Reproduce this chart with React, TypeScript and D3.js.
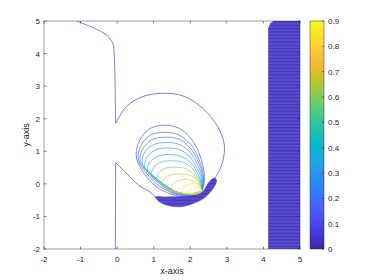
import React from "react";
import * as d3 from "d3";

type Pt = [number, number];

const xTicks = [-2, -1, 0, 1, 2, 3, 4, 5];
const yTicks = [-2, -1, 0, 1, 2, 3, 4, 5];
const cbTicks = [0, 0.1, 0.2, 0.3, 0.4, 0.5, 0.6, 0.7, 0.8, 0.9];

// parula, sampled every 4th of the 64 entries
const parula = [
  "#3e26a8", "#4537d5", "#484df0", "#4563fd", "#327cfc", "#2b91ef",
  "#20a5e3", "#08b5d0", "#19bfb6", "#37c897", "#64cd6f", "#9dc943",
  "#d1bf27", "#f8ba3d", "#fccf30", "#f5e924", "#f9fb15",
];
const parulaPos = [0, 4, 8, 12, 16, 20, 24, 28, 32, 36, 40, 44, 48, 52, 56, 60, 63].map((i) => i / 63);

// outer contour (low level)
const outerLevel = 0.05;
const outerTop: Pt[] = [
  [-1.11, 5.0], [-0.65, 4.79], [-0.29, 4.57], [-0.12, 4.31], [-0.08, 3.96],
  [-0.06, 3.3], [-0.05, 2.5], [-0.04, 1.86],
];
const outerArc: Pt[] = [
  [-0.04, 1.86], [0.25, 2.37], [0.7, 2.68], [1.25, 2.78], [1.8, 2.7],
  [2.34, 2.32], [2.75, 1.76], [2.93, 1.2], [2.9, 0.75], [2.8, 0.42], [2.66, 0.15],
];
const outerVert: Pt[] = [[-0.05, -2.0], [-0.04, 0.65]];
const outerLow: Pt[] = [
  [-0.04, 0.65], [0.26, 0.32], [0.6, -0.05], [0.9, -0.25], [1.06, -0.42],
];

// nested loops
const loopLevels = [0.1, 0.15, 0.2, 0.25, 0.3, 0.4, 0.5, 0.6, 0.7, 0.75, 0.85, 0.9];
const loops: Pt[][] = [
  [[2.31, -0.23], [1.95, -0.39], [1.58, -0.35], [1.13, -0.13], [0.76, 0.28], [0.53, 0.79], [0.58, 1.25], [0.85, 1.66], [1.22, 1.8], [1.67, 1.72], [2.04, 1.36], [2.27, 0.85], [2.38, 0.33], [2.37, -0.03], [2.31, -0.23]],
  [[2.31, -0.23], [1.95, -0.37], [1.58, -0.31], [1.17, -0.08], [0.835, 0.28], [0.58, 0.74], [0.64, 1.15], [0.9, 1.49], [1.24, 1.58], [1.67, 1.51], [2.02, 1.2], [2.24, 0.74], [2.36, 0.28], [2.35, -0.03], [2.31, -0.23]],
  [[2.31, -0.23], [1.95, -0.36], [1.58, -0.29], [1.22, -0.05], [0.9, 0.28], [0.63, 0.69], [0.69, 1.05], [0.94, 1.35], [1.29, 1.43], [1.69, 1.37], [2.01, 1.08], [2.22, 0.67], [2.34, 0.26], [2.34, -0.05], [2.31, -0.23]],
  [[2.31, -0.23], [1.95, -0.35], [1.6, -0.28], [1.26, -0.03], [0.96, 0.26], [0.69, 0.61], [0.74, 0.95], [0.99, 1.2], [1.33, 1.27], [1.7, 1.21], [2.0, 0.96], [2.2, 0.59], [2.32, 0.22], [2.33, -0.06], [2.31, -0.23]],
  [[2.31, -0.23], [1.95, -0.34], [1.63, -0.27], [1.31, -0.03], [1.02, 0.22], [0.76, 0.51], [0.81, 0.81], [1.05, 1.04], [1.38, 1.1], [1.73, 1.04], [2.0, 0.81], [2.18, 0.49], [2.3, 0.18], [2.32, -0.07], [2.31, -0.23]],
  [[2.31, -0.23], [1.97, -0.33], [1.66, -0.26], [1.35, -0.08], [1.08, 0.13], [0.835, 0.38], [0.89, 0.66], [1.13, 0.855], [1.45, 0.9], [1.765, 0.835], [2.01, 0.65], [2.175, 0.38], [2.28, 0.12], [2.31, -0.09], [2.31, -0.23]],
  [[2.31, -0.23], [1.97, -0.32], [1.67, -0.26], [1.4, -0.13], [1.145, 0.03], [0.94, 0.26], [1.0, 0.51], [1.22, 0.67], [1.51, 0.71], [1.81, 0.66], [2.04, 0.49], [2.175, 0.26], [2.275, 0.06], [2.3, -0.11], [2.31, -0.23]],
  [[2.31, -0.23], [1.99, -0.31], [1.72, -0.27], [1.45, -0.18], [1.22, -0.05], [1.08, 0.13], [1.13, 0.33], [1.33, 0.48], [1.6, 0.51], [1.87, 0.47], [2.065, 0.32], [2.19, 0.14], [2.275, -0.025], [2.3, -0.15], [2.31, -0.23]],
  [[2.31, -0.23], [2.02, -0.31], [1.765, -0.29], [1.49, -0.23], [1.29, -0.15], [1.22, -0.025], [1.29, 0.16], [1.49, 0.28], [1.75, 0.3], [1.99, 0.26], [2.15, 0.15], [2.25, 0.006], [2.29, -0.13], [2.31, -0.23]],
  [[2.31, -0.23], [2.04, -0.3], [1.81, -0.29], [1.63, -0.25], [1.51, -0.17], [1.49, -0.08], [1.58, 0.05], [1.73, 0.12], [1.9, 0.13], [2.08, 0.1], [2.2, 0.016], [2.275, -0.1], [2.31, -0.23]],
  [[2.31, -0.23], [2.13, -0.3], [1.95, -0.31], [1.81, -0.29], [1.765, -0.22], [1.81, -0.13], [1.93, -0.025], [2.08, 0.016], [2.2, -0.015], [2.275, -0.1], [2.31, -0.23]],
  [[2.31, -0.23], [2.175, -0.31], [2.04, -0.32], [1.965, -0.27], [2.0, -0.17], [2.1, -0.1], [2.22, -0.1], [2.29, -0.15], [2.31, -0.23]],
];

// dense, filled-looking regions
const blob: Pt[] = [
  [1.05, -0.4], [1.34, -0.4], [1.85, -0.38], [2.15, -0.33], [2.33, -0.25], [2.49, 0.02],
  [2.62, 0.17], [2.7, 0.16], [2.72, 0.08], [2.66, -0.08], [2.4, -0.42], [2.04, -0.62],
  [1.75, -0.7], [1.45, -0.68], [1.2, -0.58], [1.08, -0.47],
];
const strip: Pt[] = [
  [4.13, -2], [4.13, 4.78], [4.19, 4.93], [4.27, 5], [5, 5], [5, -2],
];

const W = 374;
const H = 280;
const L = 44, R = 300, T = 21, B = 249;
const CBL = 310, CBR = 324;

export default function App() {
  const x = d3.scaleLinear().domain([-2, 5]).range([L, R]);
  const y = d3.scaleLinear().domain([-2, 5]).range([B, T]);
  const cy = d3.scaleLinear().domain([0, 0.9]).range([B, T]);
  const color = d3
    .scaleLinear<string>()
    .domain(parulaPos.map((p) => p * 0.9))
    .range(parula)
    .interpolate(d3.interpolateRgb)
    .clamp(true);

  const curve = d3
    .line<Pt>()
    .x((d) => x(d[0]))
    .y((d) => y(d[1]))
    .curve(d3.curveCatmullRom.alpha(0.5));
  const poly = d3
    .line<Pt>()
    .x((d) => x(d[0]))
    .y((d) => y(d[1]))
    .curve(d3.curveCatmullRomClosed.alpha(0.5));

  const tk = 2.5;
  const axisColor = "#262626";
  const font = "'Liberation Sans', Arial, Helvetica, sans-serif";

  return (
    <svg
      width={W}
      height={H}
      style={{ position: "absolute", left: 0, top: 0, background: "#fff" }}
      fontFamily={font}
    >
      <defs>
        <linearGradient id="cb" x1="0" y1="1" x2="0" y2="0">
          {parula.map((c, i) => (
            <stop key={i} offset={parulaPos[i]} stopColor={c} />
          ))}
        </linearGradient>
        <pattern id="stripes" width={6} height={3.3} patternUnits="userSpaceOnUse">
          <rect width={6} height={3.3} fill="#5a4dcc" />
          <rect y={1.6} width={6} height={1.3} fill="#4535c0" />
        </pattern>
        <clipPath id="plot">
          <rect x={L} y={T} width={R - L} height={B - T} />
        </clipPath>
      </defs>

      <g clipPath="url(#plot)">
        <path d={d3.line<Pt>().x((d) => x(d[0])).y((d) => y(d[1]))(strip) ?? ""} fill="url(#stripes)" />
        <path d={poly(blob) ?? ""} fill="url(#stripes)" stroke="#5546c6" strokeWidth={0.5} />

        {[outerTop, outerArc, outerVert, outerLow].map((seg, i) => (
          <path key={`o-${i}`} d={curve(seg) ?? ""} fill="none" stroke={color(outerLevel)} strokeWidth={0.65} />
        ))}

        {loops.map((pts, i) => (
          <path key={`l-${i}`} d={curve(pts) ?? ""} fill="none" stroke={color(loopLevels[i])} strokeWidth={0.65} />
        ))}
      </g>

      {/* axes box */}
      <rect x={L} y={T} width={R - L} height={B - T} fill="none" stroke={axisColor} strokeOpacity={0.55} strokeWidth={0.8} />
      {xTicks.map((t) => (
        <g key={`xt-${t}`}>
          <line x1={x(t)} x2={x(t)} y1={B} y2={B - tk} stroke={axisColor} strokeWidth={0.6} />
          <line x1={x(t)} x2={x(t)} y1={T} y2={T + tk} stroke={axisColor} strokeWidth={0.6} />
          <text x={x(t)} y={262} fontSize={8} textAnchor="middle" fill={axisColor}>
            {t}
          </text>
        </g>
      ))}
      {yTicks.map((t) => (
        <g key={`yt-${t}`}>
          <line x1={L} x2={L + tk} y1={y(t)} y2={y(t)} stroke={axisColor} strokeWidth={0.6} />
          <line x1={R} x2={R - tk} y1={y(t)} y2={y(t)} stroke={axisColor} strokeWidth={0.6} />
          <text x={40} y={y(t) + 3} fontSize={8} textAnchor="end" fill={axisColor}>
            {t}
          </text>
        </g>
      ))}
      <text x={(L + R) / 2} y={274} fontSize={9} textAnchor="middle" fill={axisColor}>
        x-axis
      </text>
      <text
        transform={`translate(29,${(T + B) / 2}) rotate(-90)`}
        fontSize={9}
        textAnchor="middle"
        fill={axisColor}
      >
        y-axis
      </text>

      {/* colorbar */}
      <rect x={CBL} y={T} width={CBR - CBL} height={B - T} fill="url(#cb)" />
      <rect x={CBL} y={T} width={CBR - CBL} height={B - T} fill="none" stroke={axisColor} strokeOpacity={0.55} strokeWidth={0.8} />
      {cbTicks.map((t) => (
        <g key={`cb-${t}`}>
          <line x1={CBR} x2={CBR - 2} y1={cy(t)} y2={cy(t)} stroke={axisColor} strokeWidth={0.6} />
          <text x={328} y={cy(t) + 3} fontSize={8} fill={axisColor}>
            {t}
          </text>
        </g>
      ))}
    </svg>
  );
}
